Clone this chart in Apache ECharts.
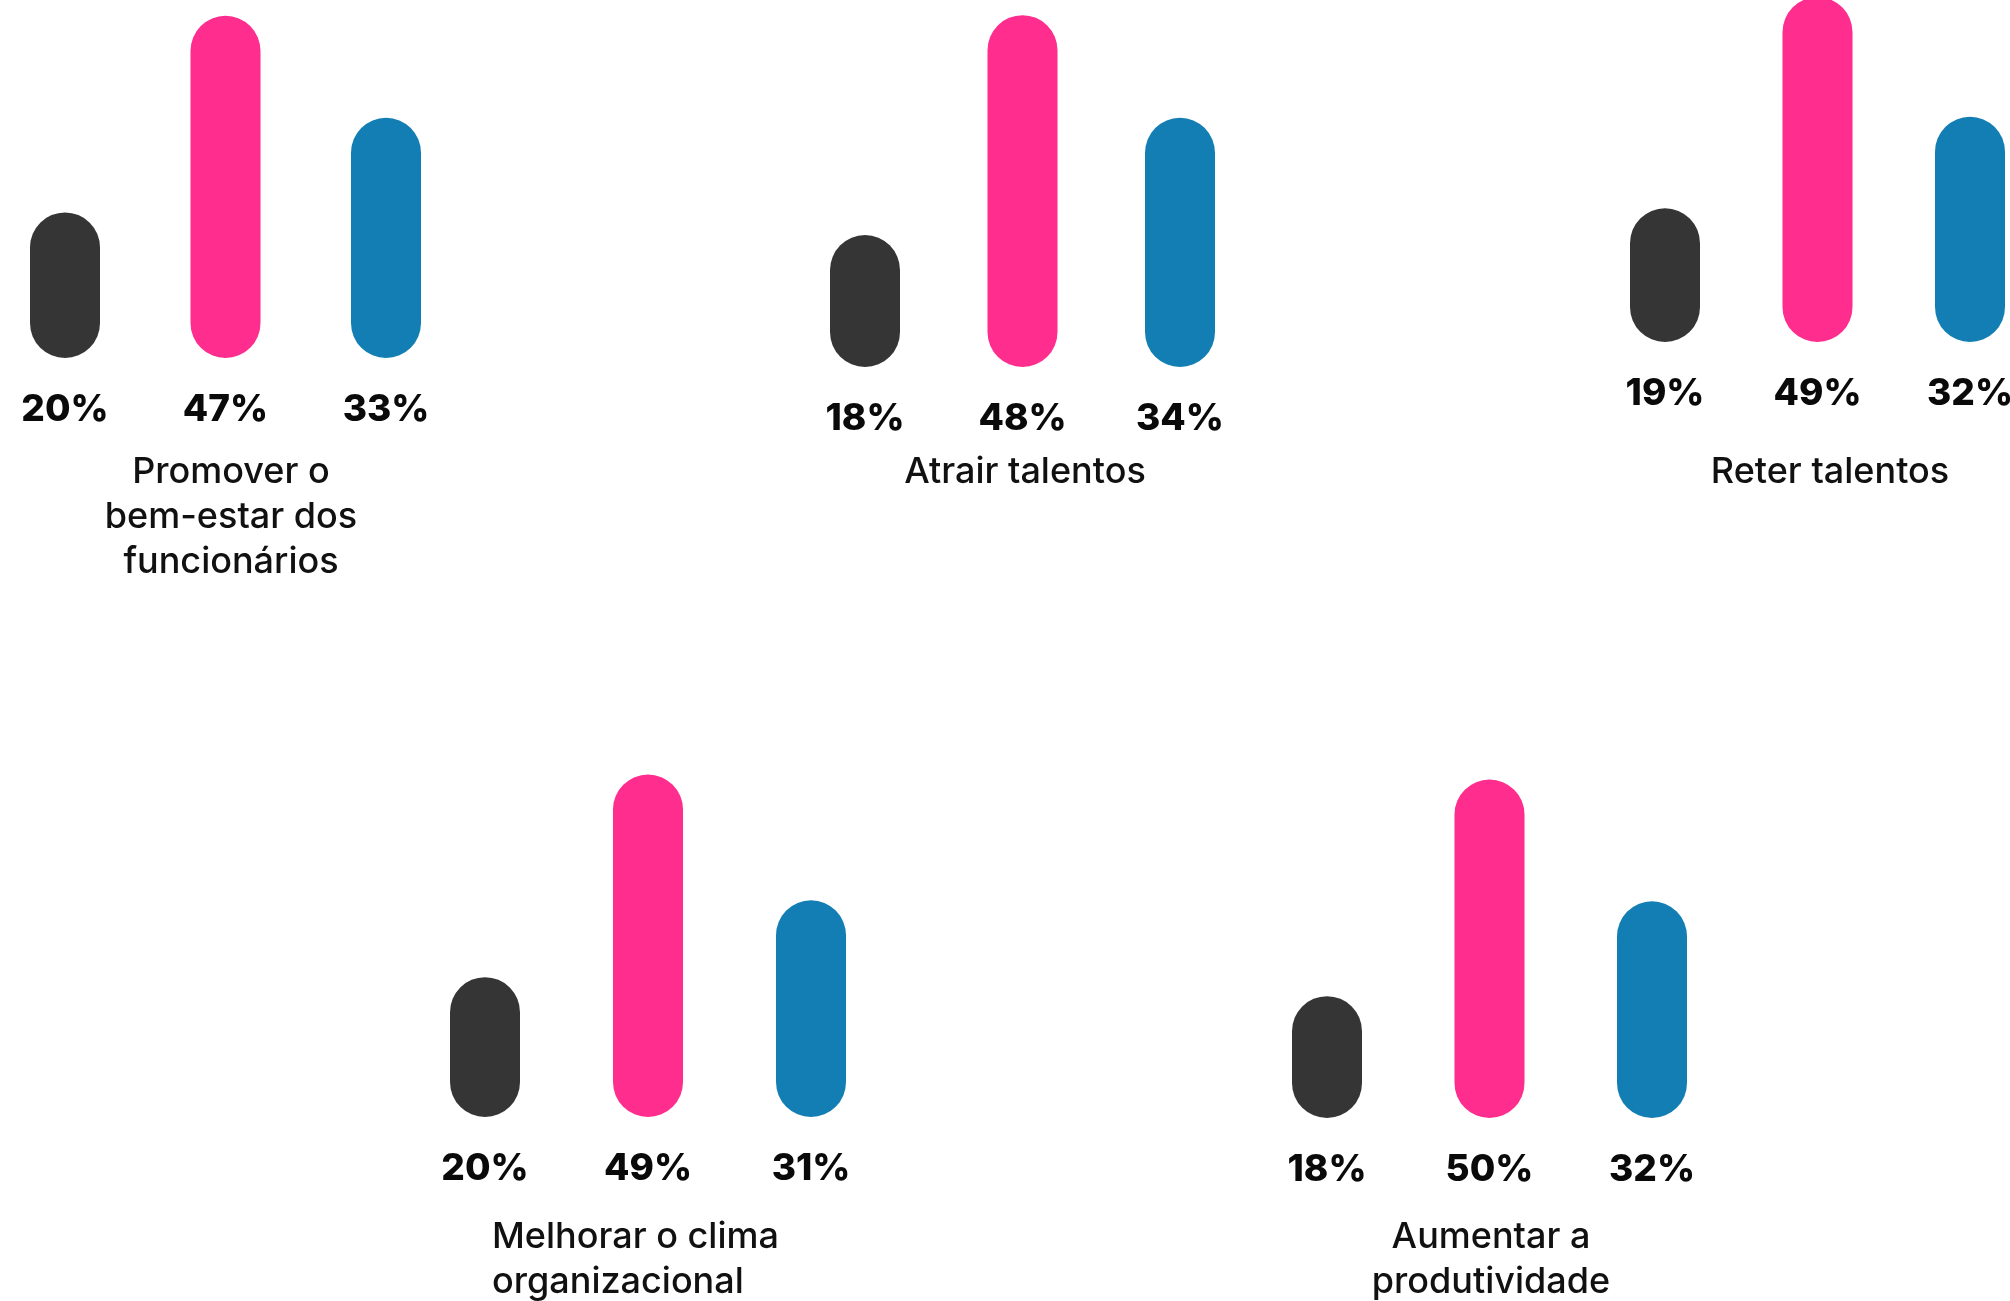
<!DOCTYPE html>
<html>
<head>
<meta charset="utf-8">
<script src="https://cdn.jsdelivr.net/npm/echarts@6/dist/echarts.min.js"></script>
<style>
html,body{margin:0;padding:0;background:#fff;}
#chart{width:2010px;height:1301px;}
</style>
</head>
<body>
<div id="chart"></div>
<script>
// ---- data ----
const categories = [
  'Promover o\nbem-estar dos\nfuncionários',
  'Atrair talentos',
  'Reter talentos',
  'Melhorar o clima\norganizacional',
  'Aumentar a\nprodutividade'
];
const darkValues = [20, 18, 19, 20, 18];
const pinkValues = [47, 48, 49, 49, 50];
const blueValues = [33, 34, 32, 31, 32];
const barKeys = ['dark', 'pink', 'blue'];

// ---- layout / style (not data) ----
const colors = ['#353535', '#FF2D8D', '#137EB3'];
const panels = [
  {c1: 65,   s: 160.5, yb: 358,  k: 7.28, tx: 231,  ty: 450,  align: 'center'},
  {c1: 865,  s: 157.5, yb: 367,  k: 7.33, tx: 1025, ty: 450,  align: 'center'},
  {c1: 1665, s: 152.5, yb: 342,  k: 7.04, tx: 1830, ty: 450,  align: 'center'},
  {c1: 485,  s: 163,   yb: 1117, k: 6.99, tx: 492,  ty: 1215, align: 'left'},
  {c1: 1327, s: 162.5, yb: 1118, k: 6.77, tx: 1491, ty: 1215, align: 'center'}
];
const YMAX = 60;
const FONT = 'Inter, "Noto Sans", sans-serif';

const grids = [], xAxes = [], yAxes = [], series = [], graphics = [];
panels.forEach((p, i) => {
  const h = YMAX * p.k;
  grids.push({left: p.c1 - p.s / 2, width: 3 * p.s, top: p.yb - h, height: h, outerBoundsMode: 'none', containLabel: false});
  xAxes.push({type: 'category', gridIndex: i, data: barKeys, show: false});
  yAxes.push({type: 'value', gridIndex: i, min: 0, max: YMAX, show: false});
  const vals = [darkValues[i], pinkValues[i], blueValues[i]];
  series.push({
    type: 'bar', xAxisIndex: i, yAxisIndex: i, barWidth: 70, clip: false,
    data: vals.map((v, j) => ({value: v, itemStyle: {color: colors[j], borderRadius: 35}})),
    label: {show: true, position: 'bottom', distance: 33, formatter: '{c}%',
      color: '#0a0a0a', fontFamily: FONT, fontWeight: 800, fontSize: 37},
    silent: true
  });
  graphics.push({
    type: 'text', x: p.tx, y: p.ty,
    style: {text: categories[i], fill: '#111', font: '500 36px ' + FONT,
      textAlign: p.align, textVerticalAlign: 'top', lineHeight: 45}
  });
});

const chart = echarts.init(document.getElementById('chart'), null, {renderer: 'canvas'});
chart.setOption({
  animation: false,
  backgroundColor: '#ffffff',
  grid: grids, xAxis: xAxes, yAxis: yAxes, series: series,
  graphic: graphics
});
</script>
</body>
</html>
